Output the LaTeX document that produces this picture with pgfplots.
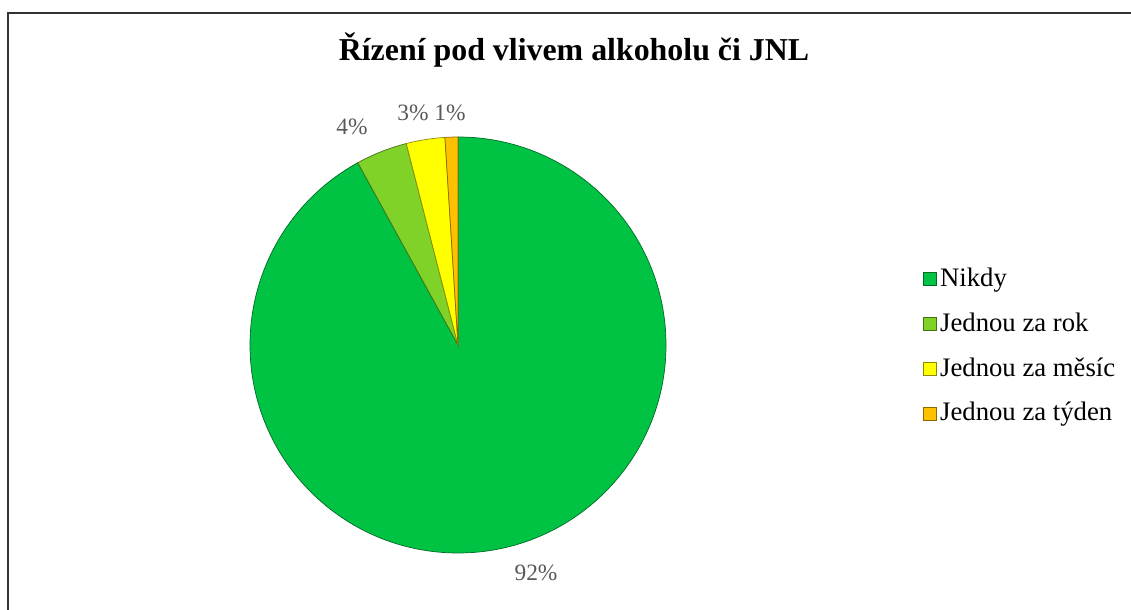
\documentclass[border=0pt]{standalone}
\usepackage{pgfplots}
\usepackage{pgfplotstable}
\usepackage{fontspec}
\setmainfont{Liberation Serif}
\pgfplotsset{compat=1.18}

\definecolor{pie0}{RGB}{0,195,68}
\definecolor{pie1}{RGB}{128,210,40}
\definecolor{pie2}{RGB}{255,255,0}
\definecolor{pie3}{RGB}{255,192,0}
\definecolor{lblgray}{RGB}{89,89,89}

% share in percent, label position in axis units (radius = 1)
\pgfplotstableread{
share lx ly
92 0.375 -1.096
4 -0.510 1.048
3 -0.216 1.115
1 -0.038 1.115
}\piedata

\begin{document}
\begin{tikzpicture}
  \useasboundingbox (0,0) rectangle (1131bp,610bp);
  % frame
  \draw[black!80, line width=1.6bp] (8bp,0bp) -- (8bp,597bp) -- (1131bp,597bp);
  % title
  \node[anchor=base, font=\fontsize{32}{34}\selectfont\bfseries]
    at (574bp,549bp) {Řízení pod vlivem alkoholu či JNL};

  \begin{axis}[
    at={(458bp,265bp)}, anchor=center,
    scale only axis, width=416bp, height=416bp,
    xmin=-1, xmax=1, ymin=-1, ymax=1,
    hide axis, clip=false,
    legend style={draw=none, fill=none, at={(axis cs:2.236,0.37)},
      anchor=north west, inner sep=0pt, outer sep=0pt,
      font=\fontsize{26.8}{27}\selectfont, row sep=20.3bp, column sep=3.5bp,
      nodes={inner sep=0pt, text height=18.5bp, text depth=6bp}},
    legend cell align=left,
    sq/.style={legend image code/.code={\draw[##1, line width=0.6bp] (0bp,-5.5bp) rectangle (13bp,7.5bp);}},
  ]
    \pgfmathsetmacro\startang{90}
    \pgfplotsforeachungrouped \i in {0,...,3}{
      \pgfplotstablegetelem{\i}{share}\of\piedata \let\share\pgfplotsretval
      \pgfplotstablegetelem{\i}{lx}\of\piedata \let\lx\pgfplotsretval
      \pgfplotstablegetelem{\i}{ly}\of\piedata \let\ly\pgfplotsretval
      \pgfmathsetmacro\endang{\startang-3.6*\share}
      \pgfmathsetmacro\sx{cos(\startang)}
      \pgfmathsetmacro\sy{sin(\startang)}
      \edef\temp{%
        \noexpand\filldraw[fill=pie\i, draw=black!45!pie\i, line width=0.7bp]
          (axis cs:0,0) -- (axis cs:\sx,\sy)
          arc[start angle=\startang, end angle=\endang, radius=208bp] -- cycle;
        \noexpand\node[text=lblgray, font=\noexpand\fontsize{23.5}{24}\noexpand\selectfont]
          at (axis cs:\lx,\ly) {\share\noexpand\%};
      }
      \temp
      \global\let\startang\endang
    }
    \addlegendimage{sq, fill=pie0, draw=black!45!pie0}
    \addlegendimage{sq, fill=pie1, draw=black!45!pie1}
    \addlegendimage{sq, fill=pie2, draw=black!45!pie2}
    \addlegendimage{sq, fill=pie3, draw=black!45!pie3}
    \legend{Nikdy, Jednou za rok, Jednou za měsíc, Jednou za týden}
  \end{axis}
\end{tikzpicture}
\end{document}
